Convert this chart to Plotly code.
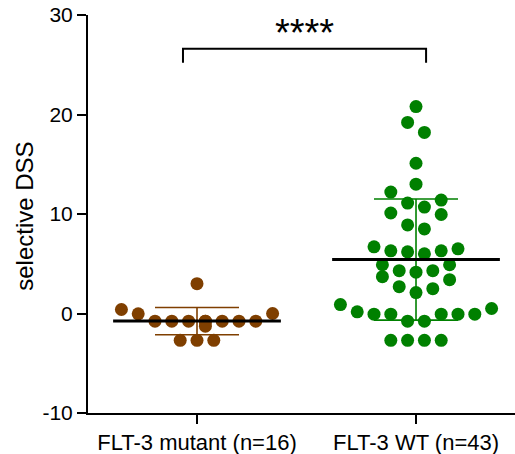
import numpy as np
import plotly.graph_objects as go

# Selective DSS per patient sample
groups = ["FLT-3 mutant (n=16)", "FLT-3 WT (n=43)"]
mutant_dss = [3.0, 0.4, 0.0, -0.03, -0.77, -0.77, -0.77, -0.77,
              -0.77, -0.77, -0.77, -0.77, -1.27, -2.7, -2.7, -2.7]
wt_dss = [20.8, 19.2, 18.2, 15.1, 13.0, 12.2, 11.4, 11.1, 10.7, 10.1, 9.95,
          8.9, 8.5, 6.7, 6.5, 6.3, 6.3, 6.2, 6.0, 4.9, 4.9, 4.3, 4.3, 4.15,
          3.7, 3.4, 2.7, 2.5, 2.1, 0.9, 0.5, 0.17, -0.07, -0.07, -0.07,
          -0.07, -0.07, -0.77, -0.77, -2.7, -2.7, -2.7, -2.7]
y_ticks = [-10, 0, 10, 20, 30]
y_tick_labels = ["-10", "0", "10", "20", "30"]
significance = "****"

colors = ["#7F3F00", "#008000"]
series = [mutant_dss, wt_dss]


def swarm_offsets(values, span=1.7, gap=1.25, step=0.0767, max_slots=10):
    """Scatter-dot layout: group close values into rows, then spread each
    row outward from the centre, lowest values nearest the middle."""
    values = np.asarray(values, dtype=float)
    order = np.argsort(values, kind="stable")
    rows, current = [], [order[0]]
    for prev, idx in zip(order[:-1], order[1:]):
        if values[idx] - values[current[0]] > span or values[idx] - values[prev] > gap:
            rows.append(current)
            current = [idx]
        else:
            current.append(idx)
    rows.append(current)

    offsets = np.zeros(len(values))
    for row in rows:
        n = len(row)
        m = min(n, max_slots)
        extra = n - m
        if m % 2:
            slots = [0.0] + [s * k for k in range(1, m // 2 + 1) for s in (1, -1)]
        else:
            slots = [s * (k + 0.5) for k in range(m // 2) for s in (1, -1)]
        for i, idx in enumerate(row):
            offsets[idx] = slots[max(0, i - extra)] * step
    return offsets


fig = go.Figure()
mean_half = 0.383

for pos, (vals, col) in enumerate(zip(series, colors)):
    vals = np.asarray(vals, dtype=float)
    xs = pos + swarm_offsets(vals)
    mean = vals.mean()
    sd = vals.std(ddof=1)

    # SD error bar (drawn under the dots)
    fig.add_trace(go.Scatter(
        x=[pos], y=[mean], mode="markers",
        marker=dict(size=0.1, color=col, opacity=0),
        error_y=dict(type="data", array=[sd], arrayminus=[sd], symmetric=False,
                     color=col, thickness=1.6, width=42),
        hoverinfo="skip", showlegend=False))

    # individual samples
    fig.add_trace(go.Scatter(
        x=xs, y=vals, mode="markers",
        marker=dict(size=13, color=col, line=dict(width=0)),
        showlegend=False))

    # mean line
    fig.add_trace(go.Scatter(
        x=[pos - mean_half, pos + mean_half], y=[mean, mean], mode="lines",
        line=dict(color="black", width=3), hoverinfo="skip", showlegend=False))

# significance bracket
br_left, br_right, br_low, br_high = -0.064, 1.046, 25.2, 26.6
fig.add_trace(go.Scatter(
    x=[br_left, br_left, br_right, br_right],
    y=[br_low, br_high, br_high, br_low],
    mode="lines", line=dict(color="black", width=2),
    hoverinfo="skip", showlegend=False))

font_family = "Arial, Liberation Sans, sans-serif"

fig.add_annotation(
    x=0.493, y=25.9, xref="x", yref="y",
    text=significance, showarrow=False, xanchor="center", yanchor="bottom",
    font=dict(family=font_family, size=38, color="black"))

fig.add_annotation(
    x=-0.148, y=0.495, xref="paper", yref="paper",
    text="selective DSS", textangle=-90, showarrow=False,
    xanchor="center", yanchor="middle",
    font=dict(family=font_family, size=24, color="black"))

fig.update_layout(
    width=515, height=454,
    margin=dict(l=88, r=0, t=15, b=41),
    paper_bgcolor="white", plot_bgcolor="white",
    font=dict(family=font_family, color="black"),
    xaxis=dict(
        range=[-0.4977, 1.452], tickmode="array", tickvals=[0, 1], ticktext=groups,
        showline=True, linecolor="black", linewidth=2,
        ticks="outside", ticklen=9, tickwidth=2, tickcolor="black",
        showgrid=False, zeroline=False, tickfont=dict(size=22)),
    yaxis=dict(
        range=[-10, 30], tickmode="array", tickvals=y_ticks, ticktext=y_tick_labels,
        showline=True, linecolor="black", linewidth=2,
        ticks="outside", ticklen=9, tickwidth=2, tickcolor="black",
        showgrid=False, zeroline=False, tickfont=dict(size=21)),
)

fig.write_html("out.html")
